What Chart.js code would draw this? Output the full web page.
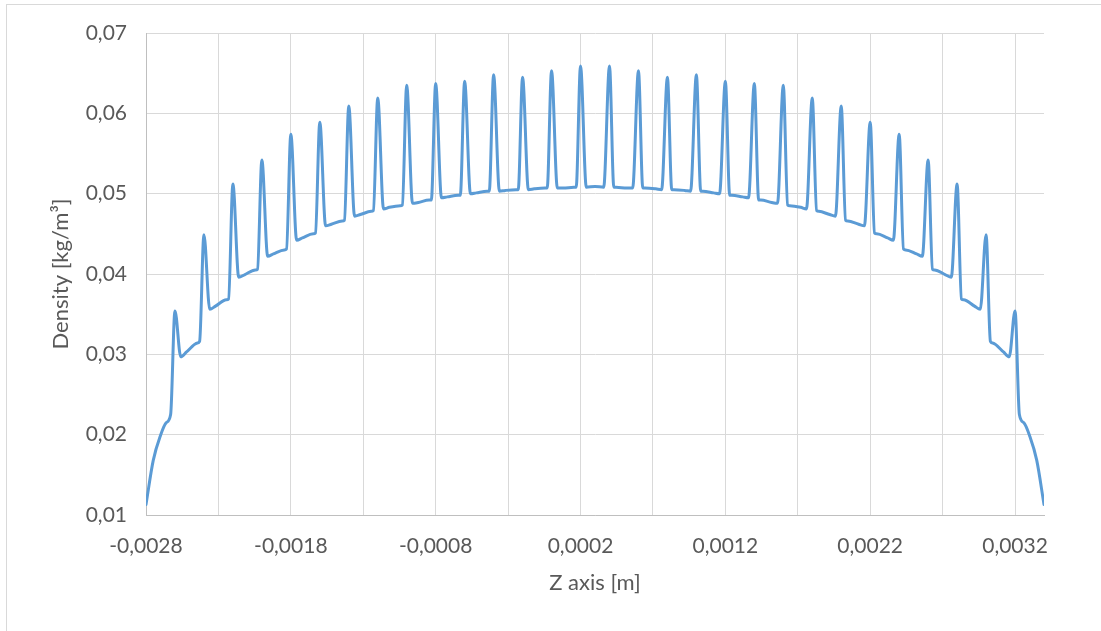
<!DOCTYPE html>
<html>
<head>
<meta charset="utf-8">
<script src="https://cdn.jsdelivr.net/npm/chart.js@4.4.1/dist/chart.umd.min.js"></script>
<style>
  html, body { margin: 0; padding: 0; background: #ffffff; overflow: hidden; }
  #wrap { position: relative; width: 1101px; height: 631px; }
  #frame { position: absolute; left: 6px; top: 4px; width: 1200px; height: 700px;
           border: 1px solid #d9d9d9; box-sizing: border-box; }
  canvas { position: absolute; left: 0; top: 0; }
</style>
</head>
<body>
<div id="wrap">
  <div id="frame"></div>
  <canvas id="chart" width="1101" height="631"></canvas>
</div>
<script>
// Axial position along the channel [m]
const zAxis = [
  -0.00280, -0.00275, -0.00270, -0.00266, -0.00263,
  -0.00260, -0.00256, -0.00252, -0.002445, -0.00243,
  -0.00240, -0.00236, -0.00232, -0.002245, -0.00223,
  -0.00220, -0.00216, -0.00212, -0.002045, -0.00203,
  -0.00200, -0.00196, -0.00192, -0.001845, -0.00183,
  -0.00180, -0.00176, -0.00172, -0.001645, -0.00163,
  -0.00160, -0.00156, -0.00152, -0.001445, -0.00143,
  -0.00140, -0.00136, -0.00132, -0.001245, -0.00123,
  -0.00120, -0.00116, -0.00112, -0.001045, -0.00103,
  -0.00100, -0.00096, -0.00092, -0.000845, -0.00083,
  -0.00080, -0.00076, -0.00072, -0.000645, -0.00063,
  -0.00060, -0.00056, -0.00052, -0.000445, -0.00043,
  -0.00040, -0.00036, -0.00032, -0.000245, -0.00023,
  -0.00020, -0.00016, -0.00012, -0.000045, -0.00003,
   0.00000,  0.00004,  0.00008,  0.000155,  0.00017,
   0.00020,  0.00024,  0.00030,  0.00036,
   0.00040,  0.00043,  0.000445, 0.00052,  0.00056,
   0.00060,  0.00063,  0.000645, 0.00072,  0.00076,
   0.00080,  0.00083,  0.000845, 0.00092,  0.00096,
   0.00100,  0.00103,  0.001045, 0.00112,  0.00116,
   0.00120,  0.00123,  0.001245, 0.00132,  0.00136,
   0.00140,  0.00143,  0.001445, 0.00152,  0.00156,
   0.00160,  0.00163,  0.001645, 0.00172,  0.00176,
   0.00180,  0.00183,  0.001845, 0.00192,  0.00196,
   0.00200,  0.00203,  0.002045, 0.00212,  0.00216,
   0.00220,  0.00223,  0.002245, 0.00232,  0.00236,
   0.00240,  0.00243,  0.002445, 0.00252,  0.00256,
   0.00260,  0.00263,  0.002645, 0.00272,  0.00276,
   0.00280,  0.00283,  0.002845, 0.00292,  0.00296,
   0.00300,  0.00303,  0.003045, 0.00312,  0.00316,
   0.00320,  0.00323,  0.00326,  0.00330,  0.00335,  0.00340
];

// Density at each position [kg/m³]
const density = [
  0.0113, 0.0168, 0.0199, 0.0215, 0.0225,
  0.0354, 0.0297, 0.0303, 0.0314, 0.0316,
  0.0449, 0.0356, 0.0360, 0.0368, 0.0369,
  0.0512, 0.0396, 0.0399, 0.0405, 0.0406,
  0.0542, 0.0422, 0.0425, 0.0430, 0.0431,
  0.0574, 0.0442, 0.0445, 0.0450, 0.0451,
  0.0589, 0.0460, 0.0462, 0.0466, 0.0467,
  0.0609, 0.0472, 0.0474, 0.0478, 0.0479,
  0.0619, 0.0481, 0.0483, 0.0485, 0.0486,
  0.0635, 0.0488, 0.0489, 0.0492, 0.0492,
  0.0637, 0.0495, 0.0496, 0.0498, 0.0498,
  0.0640, 0.0500, 0.0501, 0.0503, 0.0503,
  0.0648, 0.0503, 0.0504, 0.0505, 0.0505,
  0.0645, 0.0505, 0.0506, 0.0507, 0.0507,
  0.0653, 0.0507, 0.0507, 0.0508, 0.0508,
  0.0659, 0.0508, 0.0509, 0.0508,
  0.0659, 0.0508, 0.0508, 0.0507, 0.0507,
  0.0653, 0.0507, 0.0507, 0.0506, 0.0505,
  0.0645, 0.0505, 0.0505, 0.0504, 0.0503,
  0.0648, 0.0503, 0.0503, 0.0501, 0.0500,
  0.0640, 0.0498, 0.0498, 0.0496, 0.0495,
  0.0637, 0.0492, 0.0492, 0.0489, 0.0488,
  0.0635, 0.0486, 0.0485, 0.0483, 0.0481,
  0.0619, 0.0479, 0.0478, 0.0474, 0.0472,
  0.0609, 0.0467, 0.0466, 0.0462, 0.0460,
  0.0589, 0.0451, 0.0450, 0.0445, 0.0442,
  0.0574, 0.0431, 0.0430, 0.0425, 0.0422,
  0.0542, 0.0406, 0.0405, 0.0399, 0.0396,
  0.0512, 0.0369, 0.0368, 0.0360, 0.0356,
  0.0449, 0.0316, 0.0314, 0.0303, 0.0297,
  0.0354, 0.0225, 0.0215, 0.0199, 0.0168, 0.0113
];

// Vertical grid positions on the Z axis; every other one carries a label
const zGrid = [-0.0028, -0.0023, -0.0018, -0.0013, -0.0008, -0.0003,
                0.0002,  0.0007,  0.0012,  0.0017,  0.0022,  0.0027, 0.0032];
const zLabels = ['-0,0028', '', '-0,0018', '', '-0,0008', '',
                 '0,0002', '', '0,0012', '', '0,0022', '', '0,0032'];

// Density axis range and labels
const densityTicks = [0.01, 0.02, 0.03, 0.04, 0.05, 0.06, 0.07];
const densityLabels = ['0,01', '0,02', '0,03', '0,04', '0,05', '0,06', '0,07'];

const points = zAxis.map((z, i) => ({ x: z, y: density[i] }));

const FONT = 'Lato, "Open Sans", sans-serif';
const TEXT = '#595959';

new Chart(document.getElementById('chart'), {
  type: 'line',
  data: {
    datasets: [{
      data: points,
      borderColor: '#5b9bd5',
      borderWidth: 3,
      pointRadius: 0,
      fill: false,
      cubicInterpolationMode: 'monotone',
      borderCapStyle: 'round',
      borderJoinStyle: 'round'
    }]
  },
  options: {
    responsive: false,
    animation: false,
    events: [],
    layout: { padding: { left: 0, top: 33, right: 57, bottom: 0 } },
    plugins: { legend: { display: false }, tooltip: { enabled: false } },
    scales: {
      x: {
        type: 'linear',
        min: zGrid[0],
        max: 0.0034,
        afterBuildTicks: (scale) => { scale.ticks = zGrid.map(v => ({ value: v })); },
        afterFit: (scale) => { scale.height = 116; },
        grid: { color: '#d9d9d9', lineWidth: 1, drawTicks: false },
        border: { color: '#bfbfbf', width: 1 },
        ticks: {
          autoSkip: false,
          maxRotation: 0,
          padding: 19,
          color: TEXT,
          font: { family: FONT, size: 21 },
          callback: (v, i) => zLabels[i]
        },
        title: {
          display: true,
          text: 'Z axis [m]',
          color: TEXT,
          font: { family: FONT, size: 22 },
          padding: { top: 0, bottom: 35 }
        }
      },
      y: {
        min: densityTicks[0],
        max: densityTicks[densityTicks.length - 1],
        afterBuildTicks: (scale) => { scale.ticks = densityTicks.map(v => ({ value: v })); },
        afterFit: (scale) => { scale.width = 146; },
        grid: { color: '#d9d9d9', lineWidth: 1, drawTicks: false },
        border: { color: '#bfbfbf', width: 1 },
        ticks: {
          padding: 19,
          color: TEXT,
          font: { family: FONT, size: 21 },
          callback: (v, i) => densityLabels[i]
        },
        title: {
          display: true,
          text: 'Density [kg/m³]',
          color: TEXT,
          font: { family: FONT, size: 22 },
          padding: { top: 48, bottom: 0 }
        }
      }
    }
  }
});
</script>
</body>
</html>
